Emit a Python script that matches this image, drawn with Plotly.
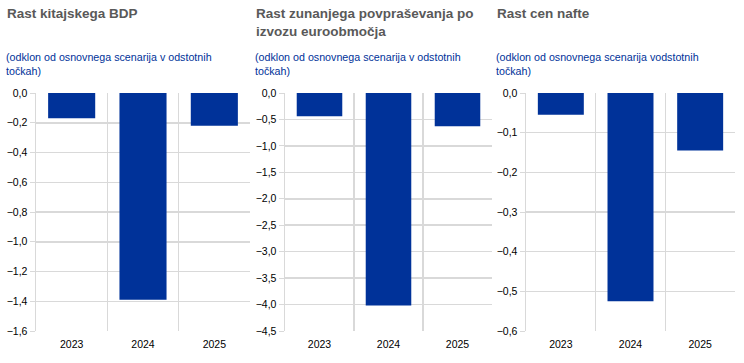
import plotly.graph_objects as go

years = ["2023", "2024", "2025"]
china_gdp = [-0.17, -1.39, -0.22]
foreign_demand = [-0.44, -4.02, -0.63]
oil_prices = [-0.055, -0.525, -0.145]

titles = ["Rast kitajskega BDP", "Rast zunanjega povpraševanja po<br>izvozu euroobmočja", "Rast cen nafte"]
subtitles = ["(odklon od osnovnega scenarija v odstotnih<br>točkah)",
             "(odklon od osnovnega scenarija v odstotnih<br>točkah)",
             "(odklon od osnovnega scenarija vodstotnih<br>točkah)"]
y_ranges = [(-1.6, 0.0, 0.2), (-4.5, 0.0, 0.5), (-0.6, 0.0, 0.1)]

W, H = 744, 363
domains_px = [(36, 250), (285, 492), (526, 735)]
title_x_px = [5, 254, 495]
y_top, y_bot = 93, 331

BLUE = "#003299"
GRID = "#d9d9d9"
FONT = "Liberation Sans, Arial, sans-serif"

fig = go.Figure()
series = [china_gdp, foreign_demand, oil_prices]
for i, vals in enumerate(series):
    n = i + 1
    xa = "x" if n == 1 else f"x{n}"
    ya = "y" if n == 1 else f"y{n}"
    fig.add_trace(go.Bar(x=list(range(len(years))), y=vals, marker_color=BLUE,
                         marker_line_width=0, width=0.66, xaxis=xa, yaxis=ya,
                         showlegend=False, hoverinfo="skip"))
    lo, hi, step = y_ranges[i]
    d0, d1 = domains_px[i]
    xkey = "xaxis" if n == 1 else f"xaxis{n}"
    ykey = "yaxis" if n == 1 else f"yaxis{n}"
    fig.layout[xkey] = dict(domain=[d0 / W, d1 / W], range=[-0.5, 2.5], anchor=ya,
                            tickvals=list(range(len(years))), ticktext=years,
                            showgrid=False, zeroline=False, automargin=False,
                            ticks="outside", ticklen=3, tickcolor="rgba(0,0,0,0)",
                            tickfont=dict(size=10.5, color="#000000", family=FONT),
                            minor=dict(tickvals=[0.5, 1.5], showgrid=True, gridcolor=GRID,
                                       gridwidth=1.5, ticks=""),
                            showline=False, fixedrange=True)
    nt = int(round((hi - lo) / step))
    fig.layout[ykey] = dict(domain=[1 - y_bot / H, 1 - y_top / H], range=[lo, hi],
                            anchor=xa, tickvals=[lo + k * step for k in range(nt + 1)],
                            tickformat=".1f", showgrid=True, gridcolor=GRID, gridwidth=1.5,
                            zeroline=False, showline=True, linecolor=GRID, linewidth=1.5,
                            ticks="outside", ticklen=5, tickcolor=GRID, automargin=False,
                            tickfont=dict(size=10.5, color="#000000", family=FONT),
                            fixedrange=True)
    fig.add_annotation(text="<b>" + titles[i] + "</b>", xref="paper", yref="paper",
                       x=title_x_px[i] / W, y=1 - 4 / H, xanchor="left", yanchor="top",
                       align="left", showarrow=False,
                       font=dict(size=13.5, color="#595959", family=FONT))
    fig.add_annotation(text=subtitles[i], xref="paper", yref="paper",
                       x=(title_x_px[i] - 1) / W, y=1 - 49 / H, xanchor="left", yanchor="top",
                       align="left", showarrow=False,
                       font=dict(size=10.7, color=BLUE, family=FONT))

fig.update_layout(width=W, height=H, margin=dict(l=0, r=0, t=0, b=0),
                  paper_bgcolor="white", plot_bgcolor="white", separators=",.",
                  bargap=0.34)
fig.write_html("out.html", config={"displayModeBar": False, "staticPlot": True},
               post_script="document.body.style.margin='0';document.body.style.padding='0';")
